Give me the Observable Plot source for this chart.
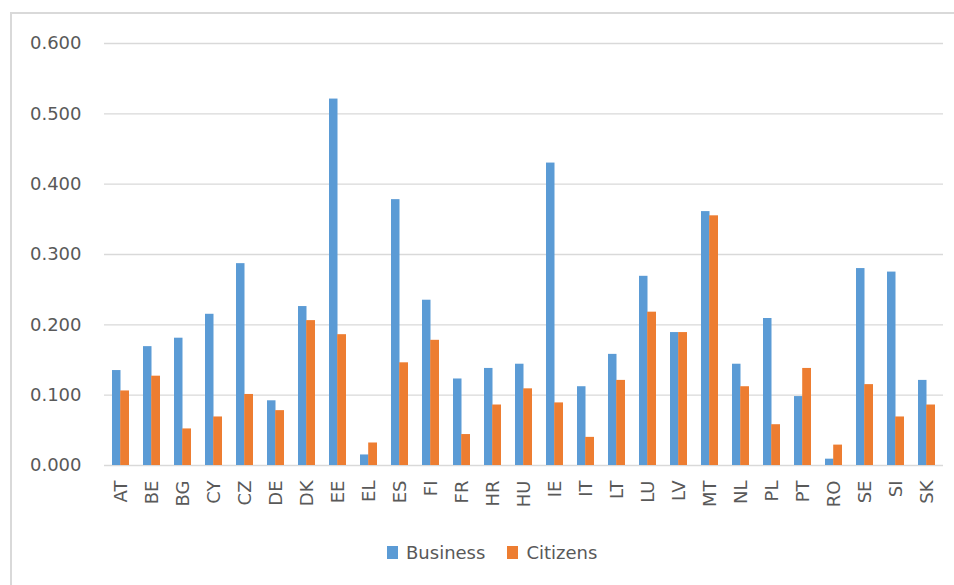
<!DOCTYPE html>
<html>
<head>
<meta charset="utf-8">
<script src="https://cdn.jsdelivr.net/npm/d3@7"></script>
<script src="https://cdn.jsdelivr.net/npm/@observablehq/plot@0.6"></script>
<style>
  html, body { margin: 0; padding: 0; background: #fff; }
  body { width: 954px; height: 585px; position: relative; overflow: hidden; font-family: "DejaVu Sans", sans-serif; }
  #frame { position: absolute; left: 10px; top: 12px; width: 960px; height: 600px; border-left: 2px solid #d9d9d9; border-top: 2px solid #d9d9d9; box-sizing: border-box; }
  #chart { position: absolute; left: 0; top: 0; }
  #legend { position: absolute; left: 387px; top: 542px; display: flex; align-items: center; font-size: 18px; color: #595959; }
  .sw { width: 11px; height: 13px; display: inline-block; margin-right: 8px; }
  .item { display: flex; align-items: center; margin-right: 22px; }
</style>
</head>
<body>
<div id="frame"></div>
<div id="chart"></div>
<div id="legend"></div>
<script>
const countries = ["AT","BE","BG","CY","CZ","DE","DK","EE","EL","ES","FI","FR","HR","HU","IE","IT","LT","LU","LV","MT","NL","PL","PT","RO","SE","SI","SK"];
const business = [0.135,0.169,0.181,0.215,0.287,0.092,0.226,0.521,0.015,0.378,0.235,0.123,0.138,0.144,0.430,0.112,0.158,0.269,0.189,0.361,0.144,0.209,0.098,0.009,0.280,0.275,0.121];
const citizens = [0.106,0.127,0.052,0.069,0.101,0.078,0.206,0.186,0.032,0.146,0.178,0.044,0.086,0.109,0.089,0.040,0.121,0.218,0.189,0.355,0.112,0.058,0.138,0.029,0.115,0.069,0.086];
const yTicks = [0, 0.1, 0.2, 0.3, 0.4, 0.5, 0.6];
const seriesNames = ["Business", "Citizens"];
const seriesColors = ["#5B9BD5", "#ED7D31"];

const bData = countries.map((c, i) => ({country: c, value: business[i]}));
const cData = countries.map((c, i) => ({country: c, value: citizens[i]}));

const chart = Plot.plot({
  width: 954,
  height: 515,
  marginLeft: 105,
  marginRight: 12,
  marginTop: 43,
  marginBottom: 50,
  style: { fontFamily: "DejaVu Sans, sans-serif", fontSize: "18px", color: "#595959", background: "transparent" },
  x: { type: "band", domain: countries, padding: 0, label: null },
  y: { domain: [0, 0.6], label: null },
  marks: [
    Plot.ruleY(yTicks, { stroke: "#d9d9d9", strokeWidth: 1.3, insetLeft: -1, insetRight: -1 }),
    Plot.barY(bData, { x: "country", y: "value", fill: seriesColors[0], insetLeft: 7, insetRight: 15.5 }),
    Plot.barY(cData, { x: "country", y: "value", fill: seriesColors[1], insetLeft: 15.2, insetRight: 7 }),
    Plot.axisY(yTicks, { tickFormat: d3.format(".3f"), tickSize: 0, tickPadding: 24, fill: "#595959", fontSize: 18, label: null }),
    Plot.axisX({ tickSize: 0, tickPadding: 15, tickRotate: -90, fill: "#595959", fontSize: 18, label: null })
  ]
});
document.getElementById("chart").appendChild(chart);

const legend = document.getElementById("legend");
seriesNames.forEach((name, i) => {
  const item = document.createElement("div");
  item.className = "item";
  const sw = document.createElement("span");
  sw.className = "sw";
  sw.style.background = seriesColors[i];
  const t = document.createElement("span");
  t.textContent = name;
  item.appendChild(sw);
  item.appendChild(t);
  legend.appendChild(item);
});
</script>
</body>
</html>
